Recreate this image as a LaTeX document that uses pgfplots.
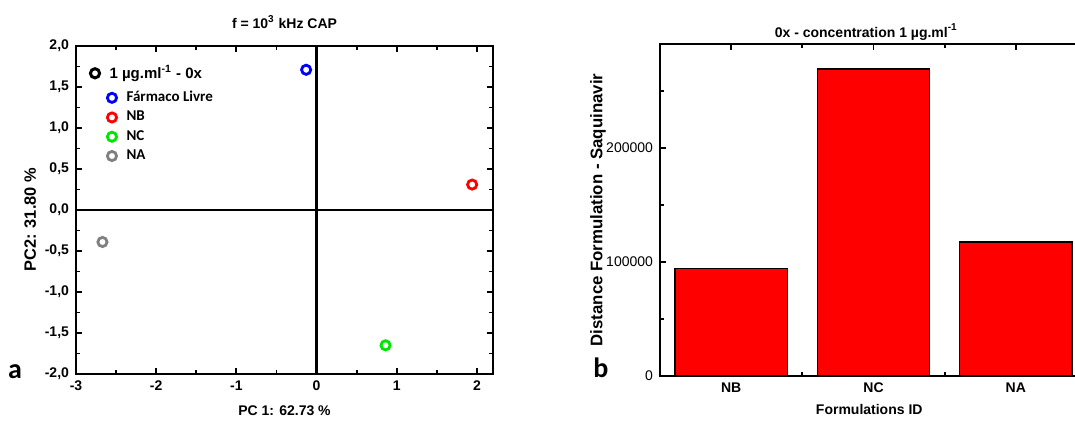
\documentclass[border=0pt]{standalone}
\usepackage{fontspec}
\setmainfont{Liberation Sans}
\newfontfamily\calib{Carlito}
\usepackage{pgfplots}
\pgfplotsset{compat=1.18}
\definecolor{pgray}{RGB}{128,128,128}
\definecolor{pgreen}{RGB}{0,230,0}
\begin{document}
\begin{tikzpicture}[x=1pt,y=1pt]
\useasboundingbox (0,0) rectangle (537.5,211);
% ---------- panel a ----------
\begin{axis}[
  at={(38pt,24pt)}, anchor=south west,
  scale only axis, width=208.5pt, height=164pt,
  xmin=-3, xmax=2.2, ymin=-2, ymax=2,
  xtick={-3,-2,-1,0,1,2}, xticklabels={-3,-2,-1,0,1,2},
  minor xtick={-2.5,-1.5,-0.5,0.5,1.5},
  ytick={-2,-1.5,-1,-0.5,0,0.5,1,1.5,2},
  yticklabels={{-2,0},{-1,5},{-1,0},{-0,5},{0,0},{0,5},{1,0},{1,5},{2,0}},
  minor ytick={-1.75,-1.25,-0.75,-0.25,0.25,0.75,1.25,1.75},
  tick align=inside, major tick length=3pt, minor tick length=2pt,
  axis line style={line width=1.1pt},
  every tick/.style={black, line width=0.9pt},
  ticklabel style={font=\bfseries\fontsize{7}{8}\selectfont},
  xlabel={PC 1: 62.73 \%},
  xlabel style={font=\bfseries\fontsize{7}{8}\selectfont, at={(axis description cs:0.5,-0.113)}, anchor=center},
  ylabel={PC2: 31.80 \%},
  ylabel style={font=\bfseries\fontsize{8.2}{9}\selectfont, at={(axis description cs:-0.110,0.47)}, anchor=center},
  legend image code/.code={\draw[mark repeat=2,mark phase=2,#1] plot coordinates {(0pt,0pt) (4pt,0pt) (8pt,0pt)};},
  legend style={draw=none, fill=none, at={(axis description cs:0.0743,0.876)}, anchor=north west,
    font=\calib\bfseries\fontsize{7.5}{9.5}\selectfont, row sep=-0.75pt, inner sep=0pt,
    /tikz/every odd column/.append style={column sep=3pt}},
  legend cell align=left,
  clip=false,
]
\draw[line width=1.1pt] (axis cs:0,-2) -- (axis cs:0,2);
\draw[line width=1.1pt] (axis cs:-3,0) -- (axis cs:2.2,0);
\addplot[only marks, mark=o, color=blue, mark size=2.3pt, mark options={line width=1.4pt}] coordinates {(-0.13,1.71)};
\addlegendentry{Fármaco Livre}
\addplot[only marks, mark=o, color=red, mark size=2.3pt, mark options={line width=1.4pt}] coordinates {(1.94,0.31)};
\addlegendentry{NB}
\addplot[only marks, mark=o, color=pgreen, mark size=2.3pt, mark options={line width=1.4pt}] coordinates {(0.86,-1.65)};
\addlegendentry{NC}
\addplot[only marks, mark=o, color=pgray, mark size=2.3pt, mark options={line width=1.4pt}] coordinates {(-2.67,-0.39)};
\addlegendentry{NA}
\node[font=\bfseries\fontsize{7}{8}\selectfont, inner sep=0pt] at (axis description cs:0.5,1.073) {f = 10\textsuperscript{3} kHz CAP};
\end{axis}
% ---------- legend header of panel a (overlay axis) ----------
\begin{axis}[
  at={(38pt,24pt)}, anchor=south west,
  scale only axis, width=208.5pt, height=164pt,
  xmin=-3, xmax=2.2, ymin=-2, ymax=2, hide axis,
  legend image code/.code={\draw[mark repeat=2,mark phase=2,#1] plot coordinates {(0pt,0pt) (4pt,0pt) (8pt,0pt)};},
  legend style={draw=none, fill=none, at={(axis description cs:0.0336,0.955)}, anchor=north west,
    font=\bfseries\fontsize{7.5}{9.5}\selectfont, inner sep=0pt,
    /tikz/every odd column/.append style={column sep=3pt}},
]
\addlegendimage{only marks, mark=o, black, mark size=2.3pt, mark options={line width=1.5pt}}
\addlegendentry{1 µg.ml\textsuperscript{-1} - 0x}
\end{axis}
% ---------- panel b ----------
\begin{axis}[
  at={(330pt,23pt)}, anchor=south west,
  scale only axis, width=213.5pt, height=166pt,
  xmin=-0.5, xmax=2.5, ymin=0, ymax=291000,
  ybar, bar width=0.79, bar shift=0pt,
  xtick={0,1,2}, xticklabels={NB,NC,NA},
  minor xtick={0.5,1.5},
  ytick={0,100000,200000}, yticklabels={0,100000,200000},
  minor ytick={50000,150000,250000},
  scaled y ticks=false,
  tick align=inside, major tick length=3pt, minor tick length=2pt,
  axis line style={line width=1.1pt},
  every tick/.style={black, line width=0.9pt},
  xticklabel style={font=\bfseries\fontsize{7}{8}\selectfont},
  yticklabel style={font=\fontsize{7}{8}\selectfont},
  xlabel={Formulations ID},
  xlabel style={font=\bfseries\fontsize{7}{8}\selectfont, at={(axis description cs:0.49,-0.102)}, anchor=center},
  ylabel={Distance Formulation - Saquinavir},
  ylabel style={font=\bfseries\fontsize{8.4}{9}\selectfont, at={(axis description cs:-0.145,0.5)}, anchor=center},
  clip=false,
]
\addplot[fill=red, draw=black, line width=0.6pt] coordinates {(0,94000) (1,269000) (2,117500)};
\node[font=\bfseries\fontsize{7}{8}\selectfont, inner sep=0pt] at (axis description cs:0.483,1.036) {0x - concentration 1 µg.ml\textsuperscript{-1}};
\end{axis}
\node[font=\calib\bfseries\fontsize{14}{16}\selectfont, inner sep=0pt] at (7.5,25) {a};
\node[font=\calib\bfseries\fontsize{14}{16}\selectfont, inner sep=0pt] at (300.5,27) {b};
\end{tikzpicture}
\end{document}
